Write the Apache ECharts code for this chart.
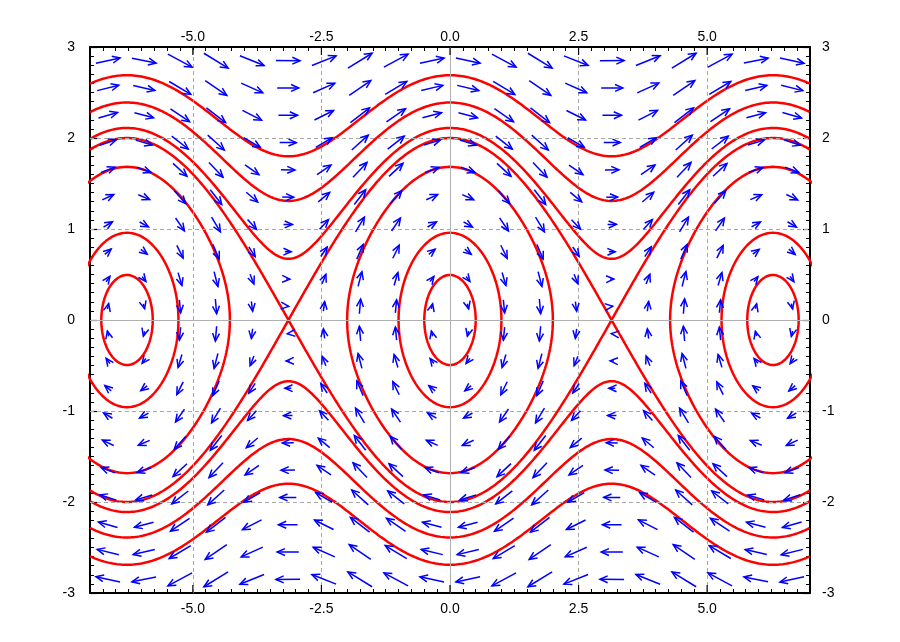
<!DOCTYPE html>
<html><head><meta charset="utf-8">
<script src="https://cdn.jsdelivr.net/npm/echarts@6/dist/echarts.min.js"></script>
<style>html,body{margin:0;padding:0;background:#fff}#c{width:900px;height:642px}</style>
</head><body><div id="c"></div>
<script>
// ---- data ----
const xRange = [-7, 7];
const yRange = [-3, 3];
const xMajorTicks = [-5, -2.5, 0, 2.5, 5];
const yMajorTicks = [-3, -2, -1, 0, 1, 2, 3];
const xGridLines = [-5, -2.5, 2.5, 5];
const yGridLines = [-2, -1, 1, 2];
// arrow grid (cell centres)
const arrowXs = [-6.65,-5.95,-5.25,-4.55,-3.85,-3.15,-2.45,-1.75,-1.05,-0.35,0.35,1.05,1.75,2.45,3.15,3.85,4.55,5.25,5.95,6.65];
const arrowYs = [-2.85,-2.55,-2.25,-1.95,-1.65,-1.35,-1.05,-0.75,-0.45,-0.15,0.15,0.45,0.75,1.05,1.35,1.65,1.95,2.25,2.55,2.85];
const arrowScale = 0.165;               // arrow length per unit of speed
// closed orbits: centres and half-widths where they cross y = 0
const orbitCenters = [-6.28, 0, 6.28];
const closedHalfWidths = [0.5, 1.0, 2.0];
// open orbits (and separatrix): height at x = 0
const openPeaks = [2.0, 2.11, 2.39, 2.69];

// pendulum phase field: x' = y, y' = -sin x
function field(x, y) { return [y, -Math.sin(x)]; }

// ---- build series ----
const curveSeries = [];
function addCurve(pts) {
  curveSeries.push({
    type: 'line', data: pts, showSymbol: false, symbol: 'none', smooth: false,
    lineStyle: { color: '#ff0000', width: 2.5 }, z: 3, clip: true,
    animation: false, silent: true
  });
}
// closed orbits
orbitCenters.forEach(c => {
  closedHalfWidths.forEach(A => {
    const cosA = Math.cos(A);
    const pts = [];
    const N = 240;
    for (let i = 0; i <= N; i++) {
      const phi = 2 * Math.PI * i / N;
      const dx = A * Math.cos(phi);
      const r = Math.max(0, 2 * (Math.cos(dx) - cosA));
      const y = Math.sqrt(r) * (Math.sin(phi) >= 0 ? 1 : -1);
      pts.push([c + dx, y]);
    }
    addCurve(pts);
  });
});
// open orbits / separatrix
openPeaks.forEach(p => {
  const E = p * p / 2 - 1;
  [1, -1].forEach(s => {
    const pts = [];
    const N = 1400;
    for (let i = 0; i <= N; i++) {
      const x = xRange[0] + (xRange[1] - xRange[0]) * i / N;
      const r = Math.max(0, 2 * (E + Math.cos(x)));
      pts.push([x, s * Math.sqrt(r)]);
    }
    addCurve(pts);
  });
});

const arrowData = [];
arrowXs.forEach(x => arrowYs.forEach(y => {
  const v = field(x, y);
  arrowData.push([x, y, v[0], v[1]]);
}));

const arrowSeries = {
  type: 'custom', data: arrowData, z: 5, silent: true, animation: false,
  renderItem: function (params, api) {
    const x = api.value(0), y = api.value(1), u = api.value(2), v = api.value(3);
    const p0 = api.coord([x - arrowScale * u / 2, y - arrowScale * v / 2]);
    const p1 = api.coord([x + arrowScale * u / 2, y + arrowScale * v / 2]);
    const ang = Math.atan2(p1[1] - p0[1], p1[0] - p0[0]);
    const hl = 8.5, ha = 24 * Math.PI / 180;
    const h1 = [p1[0] - hl * Math.cos(ang - ha), p1[1] - hl * Math.sin(ang - ha)];
    const h2 = [p1[0] - hl * Math.cos(ang + ha), p1[1] - hl * Math.sin(ang + ha)];
    const st = { stroke: '#0000ff', lineWidth: 1.5, fill: null };
    return { type: 'group', children: [
      { type: 'line', shape: { x1: p0[0], y1: p0[1], x2: p1[0], y2: p1[1] }, style: st },
      { type: 'polyline', shape: { points: [h1, p1, h2] }, style: st }
    ]};
  }
};

// major x ticks drawn at both borders
const majorTickSeries = {
  type: 'custom', data: xMajorTicks.map(v => [v]), z: 6, silent: true, animation: false, clip: false,
  renderItem: function (params, api) {
    const x = api.value(0);
    const top = api.coord([x, yRange[1]]);
    const bot = api.coord([x, yRange[0]]);
    const st = { stroke: '#000', lineWidth: 1.2 };
    return { type: 'group', children: [
      { type: 'line', shape: { x1: top[0], y1: top[1], x2: top[0], y2: top[1] + 8 }, style: st },
      { type: 'line', shape: { x1: bot[0], y1: bot[1], x2: bot[0], y2: bot[1] - 8 }, style: st }
    ]};
  }
};

// grid lines
const gridSeries = {
  type: 'line', data: [], z: 1, silent: true, animation: false,
  markLine: {
    silent: true, symbol: 'none', animation: false, label: { show: false },
    lineStyle: { color: '#a8a8a8', type: [4, 3], width: 1 },
    data: [
      ...xGridLines.map(v => ({ xAxis: v })),
      ...yGridLines.map(v => ({ yAxis: v })),
      { xAxis: 0, lineStyle: { type: 'solid', color: '#b0b0b0', width: 1 } },
      { yAxis: 0, lineStyle: { type: 'solid', color: '#b0b0b0', width: 1 } }
    ]
  }
};

function xFmt(v) {
  const k = v / 2.5;
  if (Math.abs(k - Math.round(k)) < 1e-6 && v > xRange[0] && v < xRange[1]) return (Math.round(k) * 2.5).toFixed(1);
  return '';
}
const font = { fontFamily: 'Liberation Sans, Arial, sans-serif', fontSize: 14, color: '#000' };
function xAxisDef(pos) {
  return {
    type: 'value', position: pos, min: xRange[0], max: xRange[1], interval: 0.25,
    axisLine: { show: true, onZero: false, lineStyle: { color: '#000', width: 2 } },
    axisTick: { show: true, inside: true, length: 4, lineStyle: { color: '#000', width: 1 } },
    axisLabel: Object.assign({ show: true, margin: pos === 'top' ? 3 : 9, formatter: xFmt, showMinLabel: true, showMaxLabel: true }, font),
    splitLine: { show: false }
  };
}
function yAxisDef(pos) {
  return {
    type: 'value', position: pos, min: yRange[0], max: yRange[1], interval: 1,
    axisLine: { show: true, onZero: false, lineStyle: { color: '#000', width: 2 } },
    axisTick: { show: true, inside: true, length: 7, lineStyle: { color: '#000', width: 1.2 } },
    minorTick: { show: true, splitNumber: 10, length: 4, lineStyle: { color: '#000', width: 1 } },
    axisLabel: Object.assign({ show: true, margin: pos === 'left' ? 15 : 12, padding: [5, 0, 0, 0], formatter: v => String(Math.round(v)) }, font),
    splitLine: { show: false }
  };
}

const chart = echarts.init(document.getElementById('c'), null, { renderer: 'canvas' });
chart.setOption({
  animation: false,
  backgroundColor: '#fff',
  grid: { left: 90, right: 90, top: 47, bottom: 49, containLabel: false },
  xAxis: [xAxisDef('bottom'), xAxisDef('top')],
  yAxis: [yAxisDef('left'), yAxisDef('right')],
  series: [gridSeries, ...curveSeries, arrowSeries, majorTickSeries]
});
</script></body></html>
